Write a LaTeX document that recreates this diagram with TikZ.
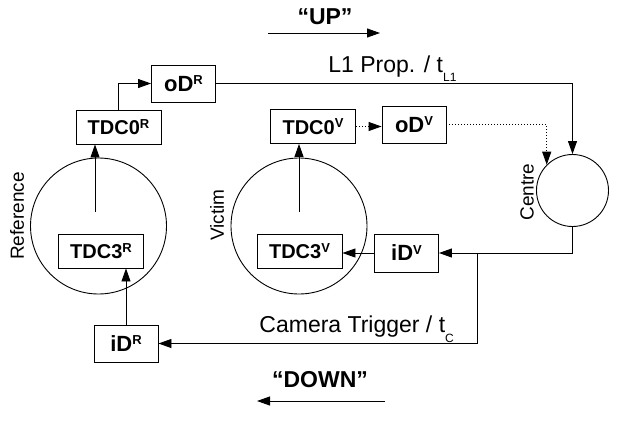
\documentclass[tikz,border=0pt]{standalone}
\usepackage{fontspec}
\setmainfont{Liberation Sans}
\usetikzlibrary{arrows.meta}
\newcommand{\fs}[1]{\fontsize{#1}{#1}\selectfont}
\newcommand{\hi}[1]{\raisebox{6.5pt}{\fs{13}#1}}
\newcommand{\lo}[2]{\raisebox{#1}{\fs{12}#2}}
\begin{document}
\begin{tikzpicture}[x=1pt,y=-1pt,line width=0.9pt,>={Triangle[length=13pt,width=9pt]},
  tbox/.style={draw,rectangle,inner sep=0pt,minimum width=85,minimum height=34,font=\fs{20}\bfseries},
  dbox/.style={draw,rectangle,inner sep=0pt,minimum width=64,minimum height=37,font=\fs{22}\bfseries},
  ring/.style={draw,circle,inner sep=0pt},
  lbl/.style={inner sep=0pt,font=\fs{23}},
  big/.style={inner sep=0pt,font=\fs{23}\bfseries},
  side/.style={inner sep=0pt,rotate=90,font=\fs{19}},
  dots/.style={dash pattern=on 1pt off 2pt}]
\useasboundingbox (0,0) rectangle (624,423);
% the three sites
\node[ring,minimum size=136] (ref) at (98.5,226) {};
\node[ring,minimum size=136] (vic) at (299,226) {};
\node[ring,minimum size=72] (centre) at (572.5,190.5) {};
\node[side] (reflbl) at (17,216) {Reference};
\node[side] (viclbl) at (217,215) {Victim};
\node[side] (cenlbl) at (527,192) {Centre};
% boxes
\node[tbox] (tdcr0) at (118.5,127) {TDC0\hi{R}};
\node[dbox] (odr) at (183.5,83.5) {oD\hi{R}};
\node[tbox] (tdcv0) at (313,126.5) {TDC0\hi{V}};
\node[dbox] (odv) at (414,124.5) {oD\hi{V}};
\node[tbox] (tdcr3) at (101,251) {TDC3\hi{R}};
\node[tbox] (tdcv3) at (299.5,251) {TDC3\hi{V}};
\node[dbox,minimum height=38] (idv) at (406.5,253) {iD\hi{V}};
\node[dbox] (idr) at (126,343.5) {iD\hi{R}};
% upward path
\coordinate (refin) at (95,212);
\coordinate (vicin) at (299,212);
\draw[->] (refin) -- (refin |- tdcr0.south);
\draw[->] (vicin) -- (vicin |- tdcv0.south);
\draw[->] (tdcr0.north) |- (odr.west);
\draw[->] (odr.east) -| (centre.north);
\draw[->,dots] (tdcv0.east) -- (tdcv0.east -| odv.west);
\draw[->,dots] (odv.east) -| (centre.north west);
\node[lbl,anchor=base west] (l1) at (328,72) {L1 Prop. / t\lo{-9pt}{L1}};
% downward path
\path (idv.east) ++(38,0) coordinate (split);
\draw[->] (centre.south) |- (idv.east);
\draw[->] (split) |- (idr.east);
\draw[->] (idv.west) -- (idv.west -| tdcv3.east);
\draw[->] (idr.north) -- (idr.north |- tdcr3.south);
\node[lbl,anchor=base west] (cam) at (259,332) {Camera Trigger / t\lo{-10pt}{C}};
% directions
\node[big] (up) at (325,17) {“UP”};
\coordinate (ups) at (268,33);
\coordinate (upe) at (380,33);
\draw[->] (ups) -- (upe);
\node[big] (down) at (320,380) {“DOWN”};
\coordinate (downs) at (385,401);
\coordinate (downe) at (257,401);
\draw[->] (downs) -- (downe);
\end{tikzpicture}
\end{document}
